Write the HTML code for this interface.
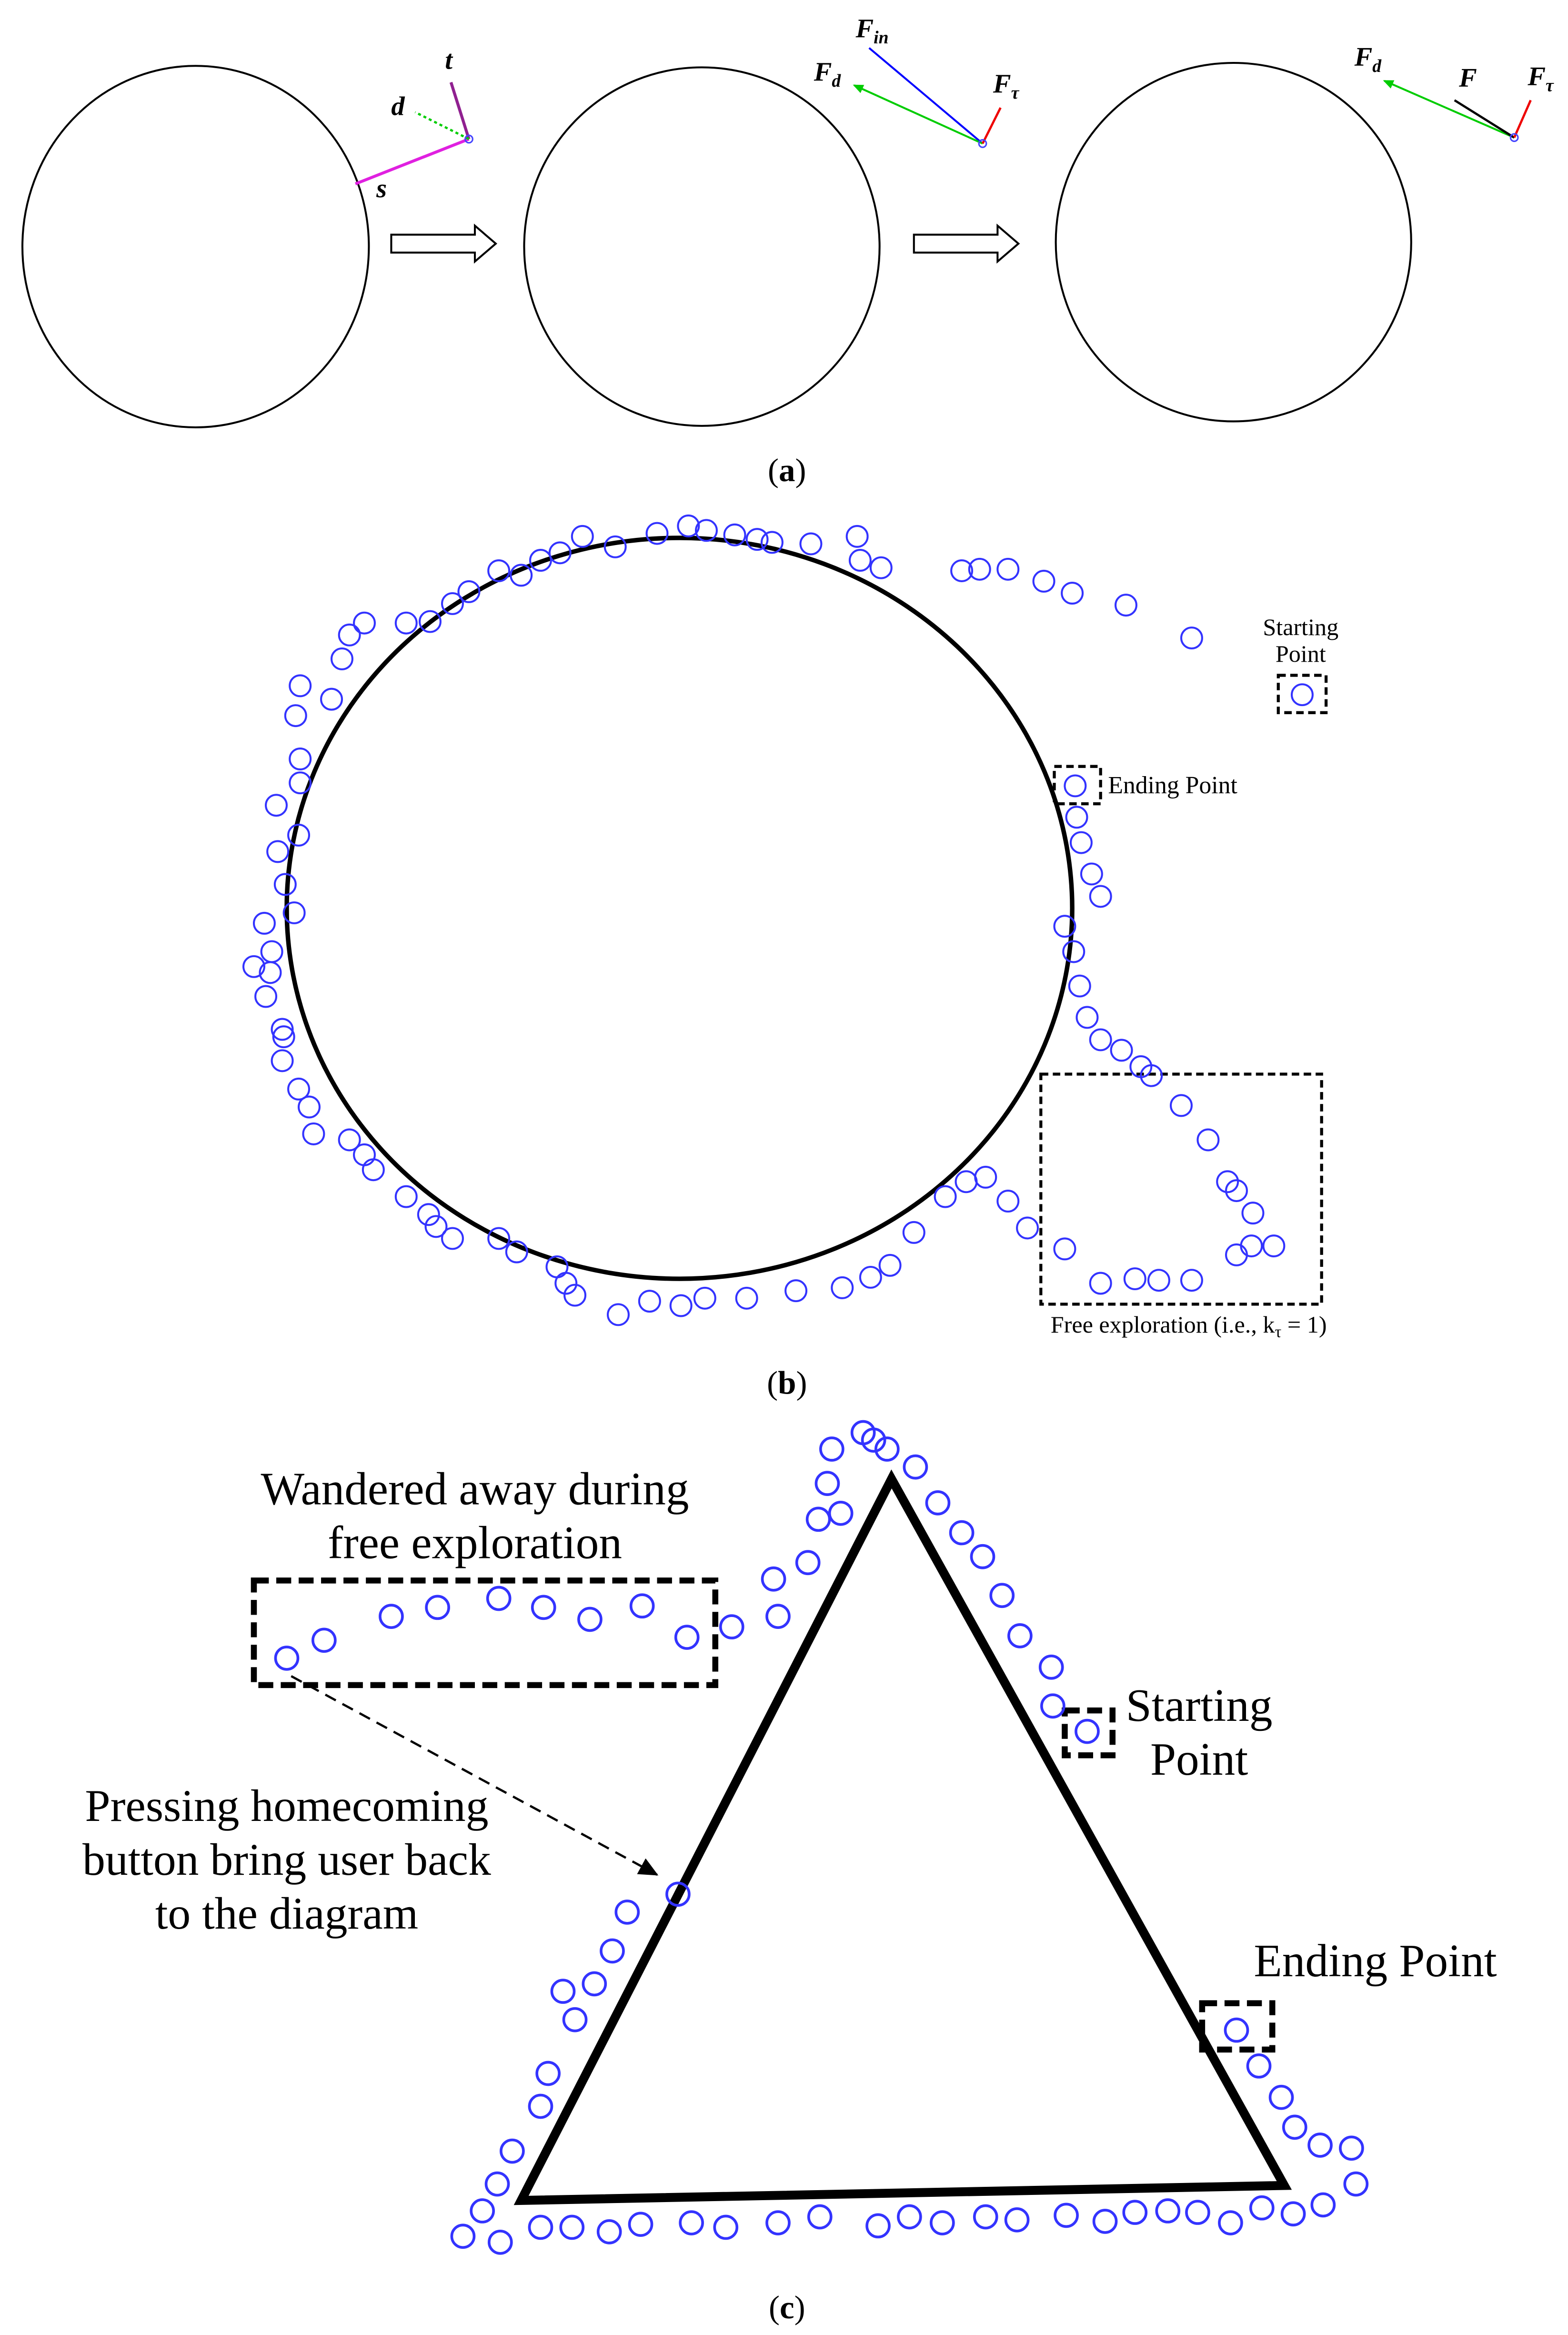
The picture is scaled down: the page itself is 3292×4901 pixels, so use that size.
<!DOCTYPE html>
<html><head><meta charset="utf-8"><style>
html,body{margin:0;padding:0;background:#fff;}
svg{display:block;}
text{font-family:"Liberation Serif",serif;}
</style></head><body>
<svg width="3292" height="4901" viewBox="0 0 1050 1563" xmlns="http://www.w3.org/2000/svg">
<rect width="1050" height="1563" fill="#fff"/>
<defs>
<marker id="ag" markerWidth="8" markerHeight="8" refX="6" refY="4" orient="auto" markerUnits="userSpaceOnUse"><path d="M0,1 L7,4 L0,7z" fill="#0c0"/></marker>
<marker id="ak" markerWidth="14" markerHeight="14" refX="12" refY="7" orient="auto" markerUnits="userSpaceOnUse"><path d="M0,1 L13,7 L0,13z" fill="#000"/></marker>
</defs>
<g fill="none" stroke="#000" stroke-width="1.3">
<ellipse cx="131" cy="165" rx="116" ry="121"/>
<ellipse cx="470" cy="165" rx="119" ry="120"/>
<ellipse cx="826" cy="162" rx="119" ry="120"/>
<path d="M262,157 H318 V151 L332,163 L318,175 V169 H262 Z"/>
<path d="M612,157 H668 V151 L682,163 L668,175 V169 H612 Z"/>
</g>
<line x1="314" y1="93" x2="238" y2="123" stroke="#e020e0" stroke-width="2"/>
<line x1="314" y1="93" x2="302" y2="55" stroke="#902090" stroke-width="2"/>
<line x1="314" y1="93" x2="278" y2="75" stroke="#0c0" stroke-width="1.5" stroke-dasharray="2,2"/>
<circle cx="314" cy="93" r="2.5" fill="none" stroke="#44f"/>
<text x="262" y="77" font-size="18" font-weight="bold" font-style="italic">d</text>
<text x="298" y="46" font-size="18" font-weight="bold" font-style="italic">t</text>
<text x="252" y="132" font-size="18" font-weight="bold" font-style="italic">s</text>
<line x1="658" y1="96" x2="582" y2="32" stroke="#00f" stroke-width="1.3"/>
<line x1="658" y1="96" x2="572" y2="57" stroke="#0c0" stroke-width="1.3" marker-end="url(#ag)"/>
<line x1="658" y1="96" x2="670" y2="72" stroke="#e00" stroke-width="1.5"/>
<circle cx="658" cy="96" r="2.5" fill="none" stroke="#44f"/>
<text x="573" y="25" font-size="18" font-weight="bold" font-style="italic">F<tspan font-size="12" dy="4">in</tspan></text>
<text x="545" y="54" font-size="18" font-weight="bold" font-style="italic">F<tspan font-size="12" dy="4">d</tspan></text>
<text x="665" y="62" font-size="18" font-weight="bold" font-style="italic">F<tspan font-size="12" dy="4">τ</tspan></text>
<line x1="1014" y1="92" x2="927" y2="54" stroke="#0c0" stroke-width="1.3" marker-end="url(#ag)"/>
<line x1="1014" y1="92" x2="974" y2="67" stroke="#000" stroke-width="1.5"/>
<line x1="1014" y1="92" x2="1025" y2="67" stroke="#e00" stroke-width="1.5"/>
<circle cx="1014" cy="92" r="2.5" fill="none" stroke="#44f"/>
<text x="907" y="44" font-size="18" font-weight="bold" font-style="italic">F<tspan font-size="12" dy="4">d</tspan></text>
<text x="977" y="58" font-size="18" font-weight="bold" font-style="italic">F</text>
<text x="1023" y="57" font-size="18" font-weight="bold" font-style="italic">F<tspan font-size="12" dy="4">τ</tspan></text>
<text x="527" y="322" font-size="22" text-anchor="middle">(<tspan font-weight="bold">a</tspan>)</text>
<ellipse cx="455" cy="608" rx="263" ry="248" fill="none" stroke="#000" stroke-width="3"/>
<g fill="none" stroke="#000" stroke-width="2" stroke-dasharray="5,3">
<rect x="856" y="452" width="32" height="25"/>
<rect x="706" y="513" width="31" height="25"/>
<rect x="697" y="719" width="188" height="154"/>
</g>
<text x="871" y="425" font-size="16" text-anchor="middle">Starting</text>
<text x="871" y="443" font-size="16" text-anchor="middle">Point</text>
<text x="742" y="531" font-size="16.5">Ending Point</text>
<text x="796" y="892" font-size="16" text-anchor="middle">Free exploration (i.e., k<tspan font-size="11" dy="3">τ</tspan><tspan dy="-3"> = 1)</tspan></text>
<text x="527" y="933" font-size="22" text-anchor="middle">(<tspan font-weight="bold">b</tspan>)</text>
<polygon points="597,990 349,1473 860,1463" fill="none" stroke="#000" stroke-width="6" stroke-linejoin="miter"/>
<g fill="none" stroke="#000" stroke-width="4" stroke-dasharray="10,5">
<rect x="170" y="1058" width="309" height="70"/>
<rect x="713" y="1145" width="32" height="30"/>
<rect x="805" y="1341" width="47" height="31"/>
</g>
<line x1="195" y1="1122" x2="440" y2="1255" stroke="#000" stroke-width="1.5" stroke-dasharray="8,5" marker-end="url(#ak)"/>
<text x="318" y="1007" font-size="31" text-anchor="middle">Wandered away during</text>
<text x="318" y="1043" font-size="31" text-anchor="middle">free exploration</text>
<text x="803" y="1152" font-size="31" text-anchor="middle">Starting</text>
<text x="803" y="1188" font-size="31" text-anchor="middle">Point</text>
<text x="921" y="1323" font-size="31" text-anchor="middle">Ending Point</text>
<text x="192" y="1219" font-size="30.5" text-anchor="middle">Pressing homecoming</text>
<text x="192" y="1255" font-size="30.5" text-anchor="middle">button bring user back</text>
<text x="192" y="1291" font-size="30.5" text-anchor="middle">to the diagram</text>
<text x="527" y="1552" font-size="22" text-anchor="middle">(<tspan font-weight="bold">c</tspan>)</text>
<g fill="none" stroke="#33f" stroke-width="1.3">
<circle cx="390" cy="359" r="7"/><circle cx="440" cy="357" r="7"/><circle cx="461" cy="352" r="7"/><circle cx="473" cy="355" r="7"/><circle cx="492" cy="358" r="7"/><circle cx="507" cy="361" r="7"/><circle cx="517" cy="363" r="7"/><circle cx="543" cy="364" r="7"/><circle cx="574" cy="359" r="7"/><circle cx="576" cy="375" r="7"/><circle cx="590" cy="380" r="7"/><circle cx="412" cy="366" r="7"/><circle cx="375" cy="370" r="7"/><circle cx="362" cy="375" r="7"/><circle cx="334" cy="382" r="7"/><circle cx="349" cy="385" r="7"/><circle cx="314" cy="396" r="7"/><circle cx="303" cy="404" r="7"/><circle cx="288" cy="416" r="7"/><circle cx="272" cy="417" r="7"/><circle cx="244" cy="417" r="7"/><circle cx="234" cy="425" r="7"/><circle cx="229" cy="441" r="7"/><circle cx="201" cy="459" r="7"/><circle cx="222" cy="468" r="7"/><circle cx="198" cy="479" r="7"/><circle cx="201" cy="508" r="7"/><circle cx="201" cy="524" r="7"/><circle cx="185" cy="539" r="7"/><circle cx="200" cy="559" r="7"/><circle cx="186" cy="570" r="7"/><circle cx="191" cy="592" r="7"/><circle cx="197" cy="611" r="7"/><circle cx="177" cy="618" r="7"/><circle cx="182" cy="637" r="7"/><circle cx="170" cy="647" r="7"/><circle cx="181" cy="651" r="7"/><circle cx="178" cy="667" r="7"/><circle cx="189" cy="689" r="7"/><circle cx="190" cy="694" r="7"/><circle cx="189" cy="710" r="7"/><circle cx="200" cy="729" r="7"/><circle cx="207" cy="741" r="7"/><circle cx="210" cy="759" r="7"/><circle cx="234" cy="763" r="7"/><circle cx="244" cy="773" r="7"/><circle cx="250" cy="783" r="7"/><circle cx="272" cy="801" r="7"/><circle cx="287" cy="813" r="7"/><circle cx="292" cy="821" r="7"/><circle cx="303" cy="829" r="7"/><circle cx="334" cy="829" r="7"/><circle cx="346" cy="838" r="7"/><circle cx="373" cy="848" r="7"/><circle cx="379" cy="859" r="7"/><circle cx="385" cy="867" r="7"/><circle cx="414" cy="880" r="7"/><circle cx="435" cy="871" r="7"/><circle cx="456" cy="874" r="7"/><circle cx="472" cy="869" r="7"/><circle cx="500" cy="869" r="7"/><circle cx="533" cy="864" r="7"/><circle cx="564" cy="862" r="7"/><circle cx="583" cy="855" r="7"/><circle cx="596" cy="847" r="7"/><circle cx="612" cy="825" r="7"/><circle cx="633" cy="801" r="7"/><circle cx="647" cy="791" r="7"/><circle cx="660" cy="788" r="7"/><circle cx="675" cy="804" r="7"/><circle cx="688" cy="822" r="7"/><circle cx="713" cy="836" r="7"/><circle cx="737" cy="859" r="7"/><circle cx="760" cy="856" r="7"/><circle cx="776" cy="857" r="7"/><circle cx="798" cy="857" r="7"/><circle cx="828" cy="840" r="7"/><circle cx="838" cy="834" r="7"/><circle cx="853" cy="834" r="7"/><circle cx="839" cy="812" r="7"/><circle cx="828" cy="797" r="7"/><circle cx="822" cy="791" r="7"/><circle cx="809" cy="763" r="7"/><circle cx="791" cy="740" r="7"/><circle cx="771" cy="720" r="7"/><circle cx="764" cy="714" r="7"/><circle cx="751" cy="703" r="7"/><circle cx="737" cy="696" r="7"/><circle cx="728" cy="681" r="7"/><circle cx="723" cy="660" r="7"/><circle cx="719" cy="637" r="7"/><circle cx="713" cy="620" r="7"/><circle cx="737" cy="600" r="7"/><circle cx="731" cy="585" r="7"/><circle cx="724" cy="564" r="7"/><circle cx="721" cy="547" r="7"/><circle cx="720" cy="526" r="7"/><circle cx="644" cy="382" r="7"/><circle cx="656" cy="381" r="7"/><circle cx="675" cy="381" r="7"/><circle cx="699" cy="389" r="7"/><circle cx="718" cy="397" r="7"/><circle cx="754" cy="405" r="7"/><circle cx="798" cy="427" r="7"/><circle cx="872" cy="465" r="7"/>
</g>
<g fill="none" stroke="#33f" stroke-width="1.8">
<circle cx="578" cy="959" r="7.5"/><circle cx="585" cy="964" r="7.5"/><circle cx="594" cy="970" r="7.5"/><circle cx="557" cy="970" r="7.5"/><circle cx="613" cy="982" r="7.5"/><circle cx="554" cy="993" r="7.5"/><circle cx="563" cy="1013" r="7.5"/><circle cx="548" cy="1017" r="7.5"/><circle cx="628" cy="1006" r="7.5"/><circle cx="644" cy="1026" r="7.5"/><circle cx="658" cy="1042" r="7.5"/><circle cx="541" cy="1046" r="7.5"/><circle cx="518" cy="1057" r="7.5"/><circle cx="671" cy="1068" r="7.5"/><circle cx="521" cy="1082" r="7.5"/><circle cx="683" cy="1095" r="7.5"/><circle cx="490" cy="1089" r="7.5"/><circle cx="704" cy="1116" r="7.5"/><circle cx="705" cy="1142" r="7.5"/><circle cx="728" cy="1159" r="7.5"/><circle cx="192" cy="1110" r="7.5"/><circle cx="217" cy="1098" r="7.5"/><circle cx="262" cy="1082" r="7.5"/><circle cx="293" cy="1076" r="7.5"/><circle cx="334" cy="1070" r="7.5"/><circle cx="364" cy="1076" r="7.5"/><circle cx="395" cy="1084" r="7.5"/><circle cx="430" cy="1075" r="7.5"/><circle cx="460" cy="1096" r="7.5"/><circle cx="454" cy="1268" r="7.5"/><circle cx="420" cy="1280" r="7.5"/><circle cx="410" cy="1306" r="7.5"/><circle cx="398" cy="1328" r="7.5"/><circle cx="377" cy="1333" r="7.5"/><circle cx="385" cy="1352" r="7.5"/><circle cx="367" cy="1388" r="7.5"/><circle cx="362" cy="1410" r="7.5"/><circle cx="343" cy="1440" r="7.5"/><circle cx="333" cy="1462" r="7.5"/><circle cx="323" cy="1480" r="7.5"/><circle cx="310" cy="1497" r="7.5"/><circle cx="335" cy="1501" r="7.5"/><circle cx="362" cy="1491" r="7.5"/><circle cx="383" cy="1491" r="7.5"/><circle cx="408" cy="1494" r="7.5"/><circle cx="429" cy="1489" r="7.5"/><circle cx="463" cy="1488" r="7.5"/><circle cx="486" cy="1491" r="7.5"/><circle cx="521" cy="1488" r="7.5"/><circle cx="549" cy="1484" r="7.5"/><circle cx="588" cy="1490" r="7.5"/><circle cx="609" cy="1484" r="7.5"/><circle cx="631" cy="1488" r="7.5"/><circle cx="660" cy="1484" r="7.5"/><circle cx="681" cy="1486" r="7.5"/><circle cx="714" cy="1483" r="7.5"/><circle cx="740" cy="1487" r="7.5"/><circle cx="760" cy="1481" r="7.5"/><circle cx="782" cy="1480" r="7.5"/><circle cx="802" cy="1481" r="7.5"/><circle cx="824" cy="1488" r="7.5"/><circle cx="845" cy="1478" r="7.5"/><circle cx="866" cy="1482" r="7.5"/><circle cx="886" cy="1476" r="7.5"/><circle cx="908" cy="1462" r="7.5"/><circle cx="905" cy="1438" r="7.5"/><circle cx="884" cy="1436" r="7.5"/><circle cx="867" cy="1424" r="7.5"/><circle cx="858" cy="1404" r="7.5"/><circle cx="843" cy="1383" r="7.5"/><circle cx="828" cy="1359" r="7.5"/>
</g>
</svg>
</body></html>
